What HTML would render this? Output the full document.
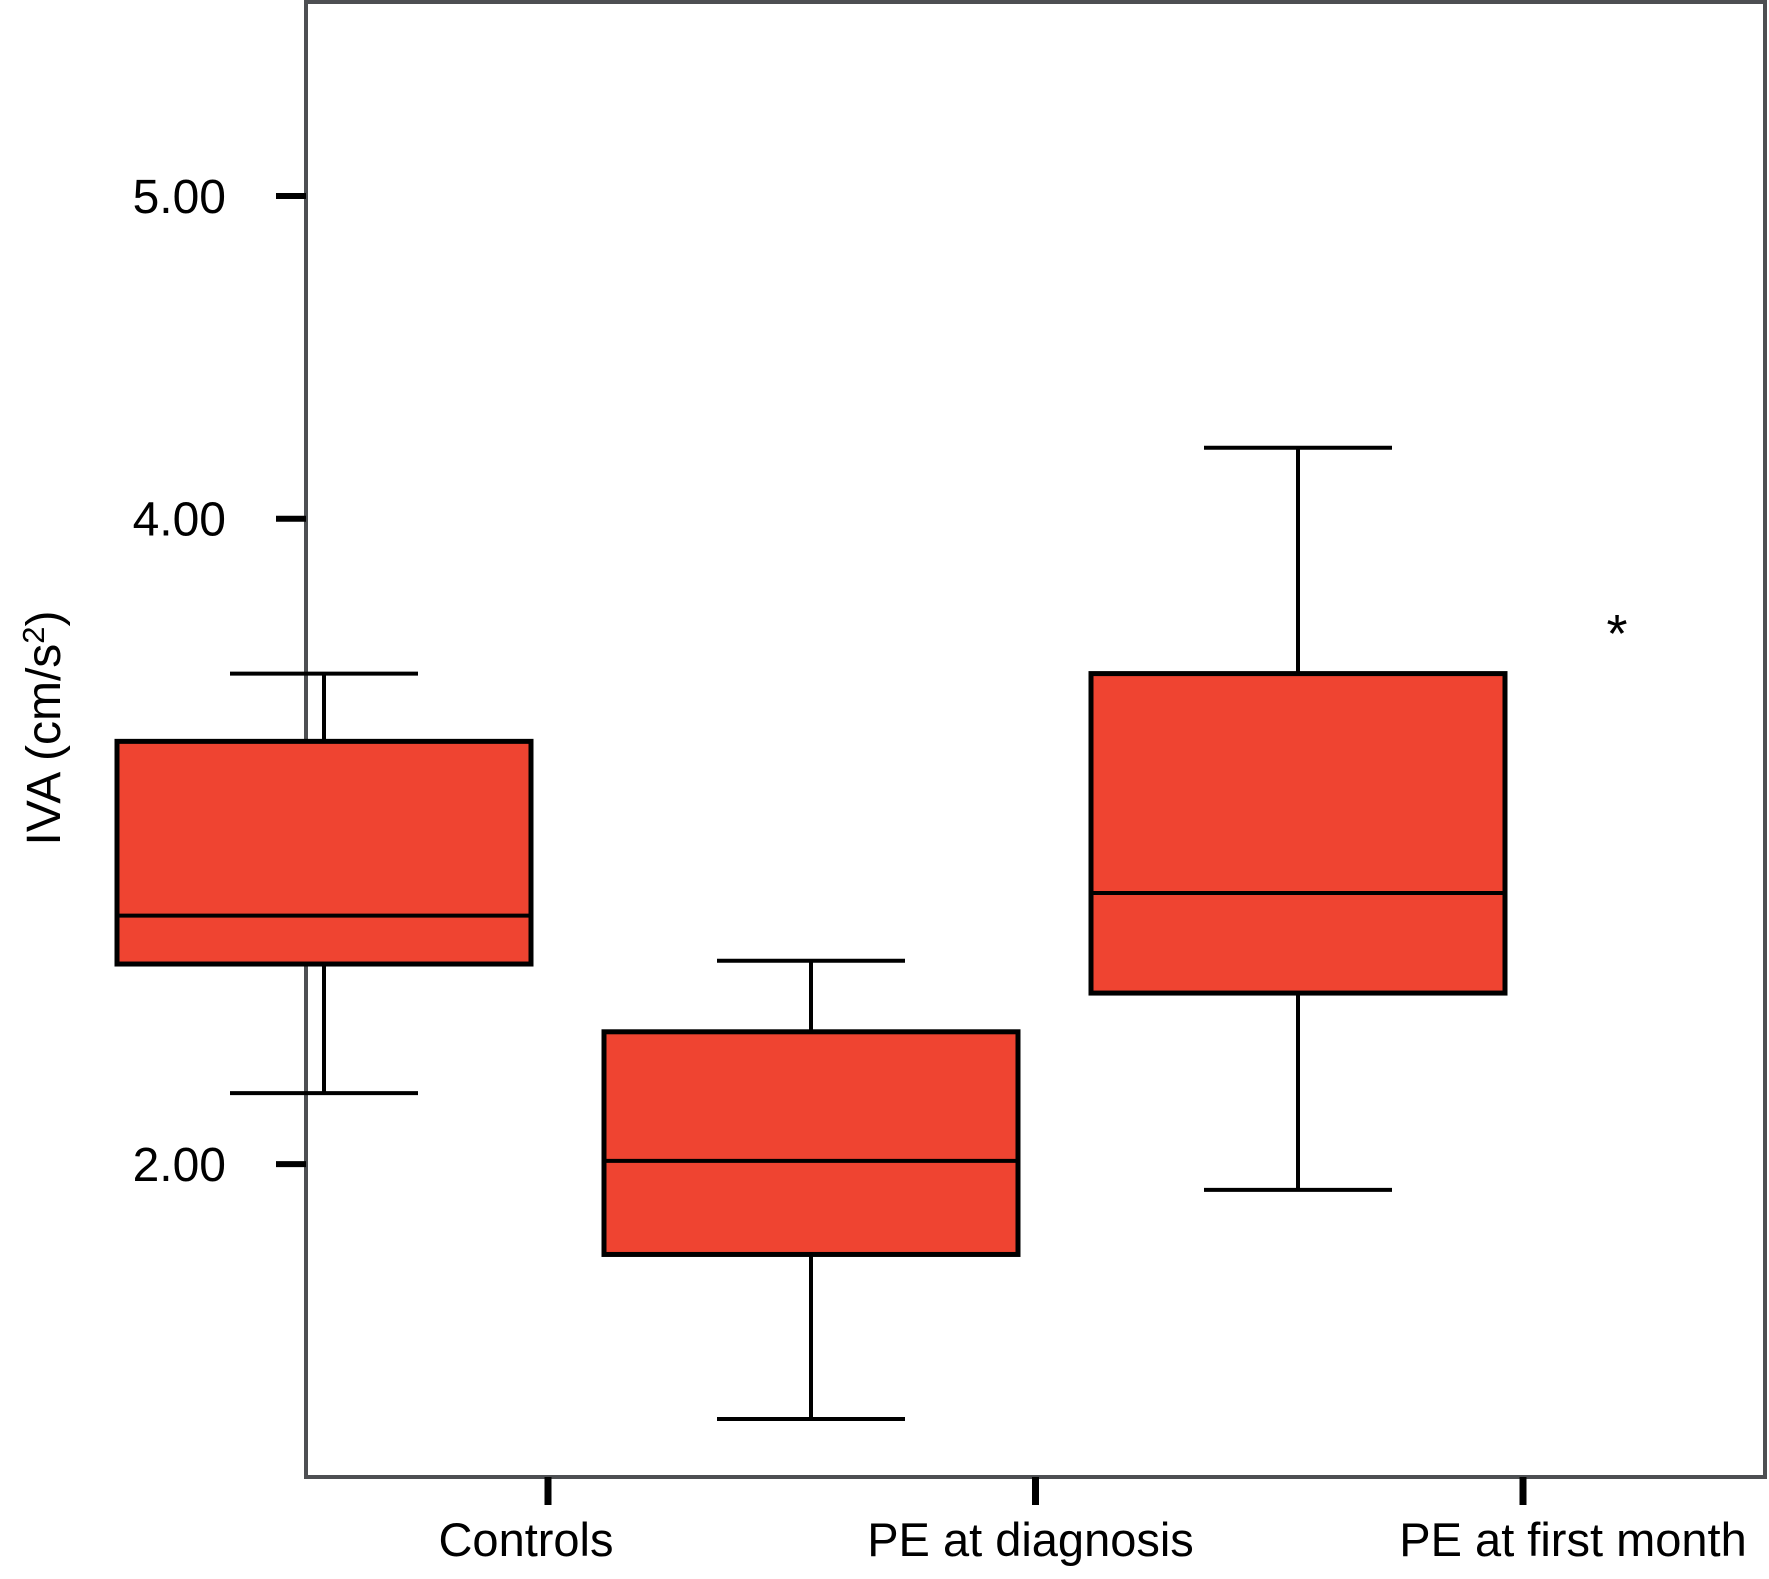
<!DOCTYPE html>
<html><head><meta charset="utf-8"><style>
body{margin:0;background:#fff;}
svg{display:block;font-family:"Liberation Sans",Arial,sans-serif;}
</style></head><body>
<svg id="chart" width="1769" height="1579" viewBox="0 0 1769 1579">
<rect x="306" y="2" width="1459" height="1475" fill="none" stroke="#4d4f52" stroke-width="4"/>
<g id="yaxis"></g>
<g id="xaxis"></g>
<g id="boxes"></g>
<text x="0" y="0" transform="translate(60,728) rotate(-90)" text-anchor="middle" font-size="48" fill="#000">IVA (cm/s<tspan dy="-16" font-size="31">2</tspan><tspan dy="16">)</tspan></text>
</svg>
<script>
const categories = ["Controls", "PE at diagnosis", "PE at first month"];
const upperWhisker = [3.52, 2.63, 4.22];
const q3Values = [3.31, 2.41, 3.52];
const medians = [2.77, 2.01, 2.84];
const q1Values = [2.62, 1.72, 2.53];
const lowerWhisker = [2.22, 1.21, 1.92];
const outlierGroups = [2];
const outlierValues = [3.68];
const yTicks = [5, 4, 2];
const yTickLabels = ["5.00", "4.00", "2.00"];

const NS = "http://www.w3.org/2000/svg";
const labelShift = [-22, -5, 50];
function y(v){ return 196 + (5 - v) * 322.7; }
function xTick(i){ return 548 + i * 487.5; }
function xBox(i){ return 324 + i * 487; }
function mk(tag, attrs, parent){
  const e = document.createElementNS(NS, tag);
  for (const k in attrs) e.setAttribute(k, attrs[k]);
  parent.appendChild(e);
  return e;
}
const ya = document.getElementById("yaxis");
yTicks.forEach((v, i) => {
  const t = mk("line", {x1:276, x2:306, y1:y(v), y2:y(v), stroke:"#000", "stroke-width":6}, ya);
  
  
  const l = mk("text", {x:226, y:y(v)+17, "text-anchor":"end", "font-size":48, fill:"#000"}, ya);
  l.textContent = yTickLabels[i];
  
  
});
const xa = document.getElementById("xaxis");
categories.forEach((c, i) => {
  const t = mk("line", {x1:xTick(i), x2:xTick(i), y1:1477, y2:1505, stroke:"#000", "stroke-width":7}, xa);
  
  
  const l = mk("text", {x:xTick(i)+labelShift[i], y:1556, "text-anchor":"middle", "font-size":47, fill:"#000"}, xa);
  l.textContent = c;
  
  
});
const bg = document.getElementById("boxes");
categories.forEach((c, i) => {
  const cx = xBox(i), hw = 207, cw = 94;
  const g = mk("g", {}, bg);
  
  
  mk("line", {x1:cx, x2:cx, y1:y(upperWhisker[i]), y2:y(q3Values[i]), stroke:"#000", "stroke-width":4}, g);
  mk("line", {x1:cx, x2:cx, y1:y(q1Values[i]), y2:y(lowerWhisker[i]), stroke:"#000", "stroke-width":4}, g);
  mk("line", {x1:cx-cw, x2:cx+cw, y1:y(upperWhisker[i]), y2:y(upperWhisker[i]), stroke:"#000", "stroke-width":4}, g);
  mk("line", {x1:cx-cw, x2:cx+cw, y1:y(lowerWhisker[i]), y2:y(lowerWhisker[i]), stroke:"#000", "stroke-width":4}, g);
  mk("rect", {x:cx-hw, y:y(q3Values[i]), width:2*hw, height:y(q1Values[i])-y(q3Values[i]), fill:"#ef4431", stroke:"#000", "stroke-width":5}, g);
  mk("line", {x1:cx-hw, x2:cx+hw, y1:y(medians[i]), y2:y(medians[i]), stroke:"#000", "stroke-width":4}, g);
});
outlierGroups.forEach((gi, k) => {
  const o = mk("text", {x:xBox(gi)+319, y:y(outlierValues[k])+30, "text-anchor":"middle", "font-size":54, fill:"#000"}, bg);
  o.textContent = "*";
  
  
});
</script>
</body></html>
